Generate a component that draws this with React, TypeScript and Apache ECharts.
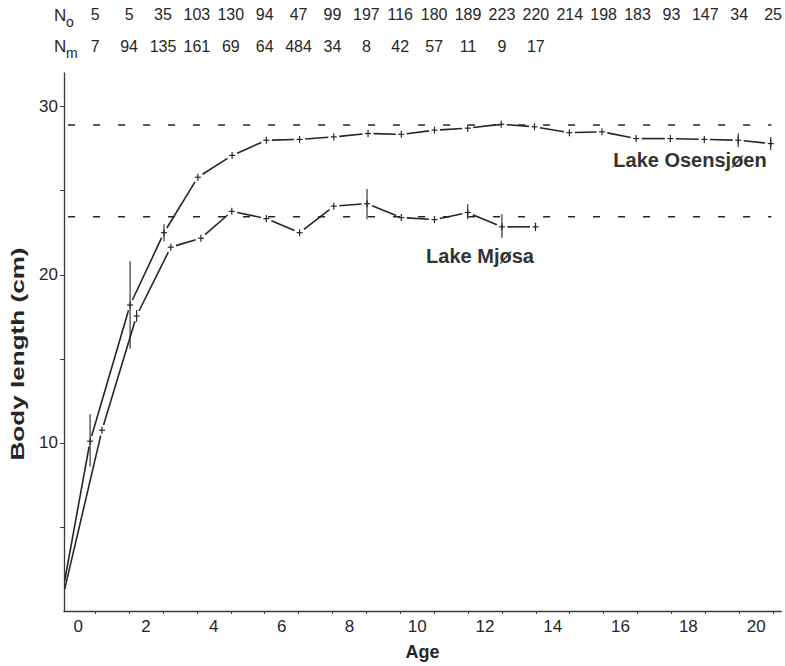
import React, { useEffect, useRef } from "react";
import * as echarts from "echarts";

// Axis labels and tick positions
const ageLabels = [0, 2, 4, 6, 8, 10, 12, 14, 16, 18, 20];
const ageTicks = [0.5, 1.5, 2.5, 3.5, 4.5, 5.5, 6.5, 7.5, 8.5, 9.5, 10.5, 11.5, 12.5, 13.5, 14.5, 15.5, 16.5, 17.5, 18.5, 19.5, 20.5];
const lengthLabels = [10, 20, 30];
const lengthTicks = [5, 10, 15, 20, 25, 30];

// Sample sizes per age class
const countOsensjoen = [5, 5, 35, 103, 130, 94, 47, 99, 197, 116, 180, 189, 223, 220, 214, 198, 183, 93, 147, 34, 25];
const countMjosa = [7, 94, 135, 161, 69, 64, 484, 34, 8, 42, 57, 11, 9, 17];

// Lake Osensjøen: mean body length by age
const osensjoenAge = [-0.4, 0.35, 1.53, 2.53, 3.53, 4.54, 5.55, 6.53, 7.54, 8.55, 9.53, 10.51, 11.49, 12.48, 13.46, 14.49, 15.45, 16.46, 17.47, 18.47, 19.47, 20.43];
const osensjoenLength = [1.8, 10.1, 18.2, 22.5, 25.8, 27.1, 28.0, 28.05, 28.2, 28.4, 28.35, 28.6, 28.72, 28.95, 28.8, 28.45, 28.5, 28.1, 28.1, 28.05, 28.0, 27.8];
const osensjoenLow = [null, 8.6, 15.6, 22.0, null, null, null, null, null, null, null, null, null, null, null, null, null, null, null, null, 27.6, 27.4];
const osensjoenHigh = [null, 11.7, 20.8, 23.0, null, null, null, null, null, null, null, null, null, null, null, null, null, null, null, null, 28.4, 28.2];

// Lake Mjøsa: mean body length by age
const mjosaAge = [-0.4, 0.7, 1.72, 2.73, 3.62, 4.53, 5.55, 6.53, 7.54, 8.52, 9.53, 10.51, 11.49, 12.5, 13.49];
const mjosaLength = [1.3, 10.75, 17.55, 21.64, 22.17, 23.77, 23.34, 22.5, 24.08, 24.23, 23.4, 23.28, 23.7, 22.85, 22.85];
const mjosaLow = [null, null, 17.2, null, null, null, null, null, null, 23.3, null, null, 23.3, 22.2, 22.6];
const mjosaHigh = [null, null, 17.9, null, null, null, null, null, null, 25.1, null, null, 24.2, 23.6, 23.1];

// Asymptotic lengths
const asymptoteOsensjoen = 28.9;
const asymptoteMjosa = 23.45;
const asymptoteSpan = [-0.3, 20.45];

const INK = "#262626";
const FONT = "'Liberation Sans', Arial, Helvetica, sans-serif";
const AGE_MIN = -0.42;
const AGE_MAX = 20.74;

function makeRender(ages: number[], lengths: number[]) {
  return (params: any, api: any) => {
    const i = params.dataIndex;
    const p = api.coord([api.value(0), api.value(1)]);
    const children: any[] = [];
    const style = { stroke: INK, lineWidth: 1.6, fill: "none" };
    // connecting stroke to the next point, broken around the markers
    if (i + 1 < ages.length) {
      const q = api.coord([ages[i + 1], lengths[i + 1]]);
      const dx = q[0] - p[0];
      const dy = q[1] - p[1];
      const len = Math.sqrt(dx * dx + dy * dy);
      const g0 = i === 0 ? 0 : 5.5;
      const g1 = 5.5;
      if (len > g0 + g1 + 1) {
        const ux = dx / len;
        const uy = dy / len;
        children.push({
          type: "line",
          shape: { x1: p[0] + ux * g0, y1: p[1] + uy * g0, x2: q[0] - ux * g1, y2: q[1] - uy * g1 },
          style,
        });
      }
    }
    if (i > 0) {
      // plus marker
      children.push({ type: "line", shape: { x1: p[0] - 3, y1: p[1], x2: p[0] + 3, y2: p[1] }, style: { ...style, lineWidth: 1.2 } });
      children.push({ type: "line", shape: { x1: p[0], y1: p[1] - 3.5, x2: p[0], y2: p[1] + 3.5 }, style: { ...style, lineWidth: 1.2 } });
      const lo = api.value(2);
      const hi = api.value(3);
      if (hi > lo) {
        const a = api.coord([api.value(0), lo]);
        const b = api.coord([api.value(0), hi]);
        children.push({ type: "line", shape: { x1: a[0], y1: a[1], x2: b[0], y2: b[1] }, style: { ...style, lineWidth: 1.1 } });
      }
    }
    return { type: "group", children };
  };
}

function rows(ages: number[], lengths: number[], lows: (number | null)[], highs: (number | null)[]) {
  return ages.map((a, i) => [a, lengths[i], lows[i] ?? lengths[i], highs[i] ?? lengths[i]]);
}

function countAxis(counts: number[], offset: number) {
  return {
    type: "value",
    position: "top",
    gridIndex: 0,
    min: AGE_MIN,
    max: AGE_MAX,
    offset,
    axisLine: { show: false, onZero: false },
    axisTick: { show: false },
    splitLine: { show: false },
    axisLabel: {
      customValues: ageTicks.slice(0, counts.length),
      formatter: (v: number) => String(counts[Math.round(v - 0.5)]),
      color: INK,
      fontFamily: FONT,
      fontSize: 16,
      margin: 4,
    },
  };
}

export default function App() {
  const ref = useRef<HTMLDivElement>(null);
  useEffect(() => {
    if (!ref.current) return;
    document.body.style.margin = "0";
    const chart = echarts.init(ref.current, null, { renderer: "svg" });
    chart.setOption({
      animation: false,
      backgroundColor: "#ffffff",
      grid: { left: 64, right: 3, top: 73, bottom: 53, containLabel: false },
      xAxis: [
        {
          type: "value",
          min: AGE_MIN,
          max: AGE_MAX,
          name: "Age",
          nameLocation: "middle",
          nameGap: 32,
          nameTextStyle: { color: INK, fontFamily: FONT, fontSize: 18, fontWeight: "bold" },
          axisLine: { onZero: false, lineStyle: { color: "#3a3a3a", width: 1.3 } },
          axisTick: { customValues: ageTicks, length: 3, inside: false, lineStyle: { color: "#3a3a3a" } },
          splitLine: { show: false },
          axisLabel: { customValues: ageLabels, color: INK, fontFamily: FONT, fontSize: 17, margin: 7 },
        },
        countAxis(countOsensjoen, 47),
        countAxis(countMjosa, 15),
      ],
      yAxis: {
        type: "value",
        min: 0,
        max: 32,
        axisLine: { show: true, onZero: false, lineStyle: { color: "#3a3a3a", width: 1.3 } },
        axisTick: { show: true, customValues: lengthTicks, length: 4, lineStyle: { color: "#3a3a3a" } },
        splitLine: { show: false },
        axisLabel: { customValues: lengthLabels, color: INK, fontFamily: FONT, fontSize: 17, margin: 6 },
      },
      graphic: [
        { type: "text", x: 54, y: 15, style: { text: "N", fontFamily: FONT, fontSize: 17, fill: INK, verticalAlign: "middle" } },
        { type: "text", x: 66, y: 22, style: { text: "o", fontFamily: FONT, fontSize: 14, fill: INK, verticalAlign: "middle" } },
        { type: "text", x: 54, y: 46, style: { text: "N", fontFamily: FONT, fontSize: 17, fill: INK, verticalAlign: "middle" } },
        { type: "text", x: 66, y: 53, style: { text: "m", fontFamily: FONT, fontSize: 14, fill: INK, verticalAlign: "middle" } },
        {
          // widely tracked axis title, stretched along its reading direction
          type: "text",
          x: 18,
          y: 354,
          rotation: Math.PI / 2,
          scaleX: 1.45,
          style: { text: "Body length (cm)", fontFamily: FONT, fontSize: 18, fontWeight: "bold", fill: INK, align: "center", verticalAlign: "middle" },
        },
        { type: "text", x: 690, y: 160, style: { text: "Lake Osensjøen", fontFamily: FONT, fontSize: 20, fontWeight: "bold", fill: "#333", align: "center", verticalAlign: "middle" } },
        { type: "text", x: 480, y: 256, style: { text: "Lake Mjøsa", fontFamily: FONT, fontSize: 20, fontWeight: "bold", fill: "#333", align: "center", verticalAlign: "middle" } },
      ],
      series: [
        {
          type: "line",
          name: "Asymptote Osensjøen",
          data: asymptoteSpan.map((a) => [a, asymptoteOsensjoen]),
          symbol: "none",
          silent: true,
          lineStyle: { color: INK, width: 1.5, type: [7, 18] },
        },
        {
          type: "line",
          name: "Asymptote Mjøsa",
          data: asymptoteSpan.map((a) => [a, asymptoteMjosa]),
          symbol: "none",
          silent: true,
          lineStyle: { color: INK, width: 1.5, type: [7, 18] },
        },
        {
          type: "custom",
          name: "Lake Osensjøen",
          renderItem: makeRender(osensjoenAge, osensjoenLength),
          encode: { x: 0, y: [1, 2, 3] },
          data: rows(osensjoenAge, osensjoenLength, osensjoenLow, osensjoenHigh),
        },
        {
          type: "custom",
          name: "Lake Mjøsa",
          renderItem: makeRender(mjosaAge, mjosaLength),
          encode: { x: 0, y: [1, 2, 3] },
          data: rows(mjosaAge, mjosaLength, mjosaLow, mjosaHigh),
        },
      ],
    });
    return () => chart.dispose();
  }, []);
  return <div ref={ref} style={{ width: 785, height: 666 }} />;
}
